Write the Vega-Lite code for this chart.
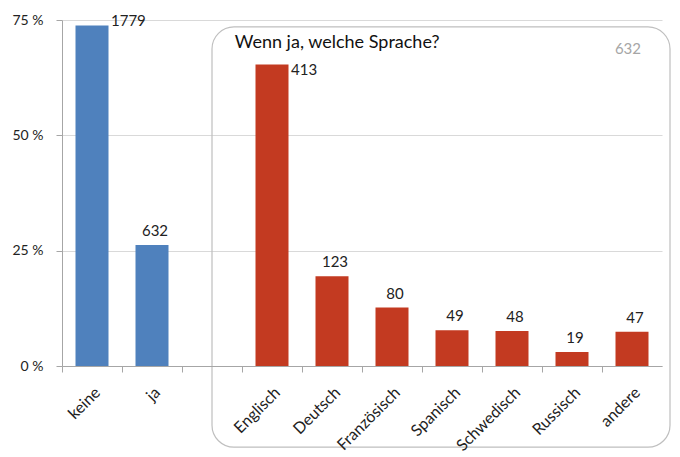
{
  "$schema": "https://vega.github.io/schema/vega-lite/v6.json",
  "width": 600,
  "height": 346,
  "autosize": {"type": "none"},
  "padding": {"left": 62, "top": 20, "right": 18, "bottom": 91},
  "background": "white",
  "config": {
    "view": {"stroke": null},
    "font": "Lato",
    "axis": {"labelFont": "Lato", "labelColor": "#222222", "labelFontSize": 14}
  },
  "data": {
    "values": [
      {"kategorie": "keine", "anzahl": 1779, "anteil": 0.7379, "gruppe": "Fremdsprache"},
      {"kategorie": "ja", "anzahl": 632, "anteil": 0.2621, "gruppe": "Fremdsprache"},
      {"kategorie": "Englisch", "anzahl": 413, "anteil": 0.6535, "gruppe": "Sprache"},
      {"kategorie": "Deutsch", "anzahl": 123, "anteil": 0.1946, "gruppe": "Sprache"},
      {"kategorie": "Französisch", "anzahl": 80, "anteil": 0.1266, "gruppe": "Sprache"},
      {"kategorie": "Spanisch", "anzahl": 49, "anteil": 0.0775, "gruppe": "Sprache"},
      {"kategorie": "Schwedisch", "anzahl": 48, "anteil": 0.0759, "gruppe": "Sprache"},
      {"kategorie": "Russisch", "anzahl": 19, "anteil": 0.0301, "gruppe": "Sprache"},
      {"kategorie": "andere", "anzahl": 47, "anteil": 0.0744, "gruppe": "Sprache"}
    ]
  },
  "encoding": {
    "x": {
      "field": "kategorie",
      "type": "nominal",
      "scale": {
        "domain": ["keine", "ja", " ", "Englisch", "Deutsch", "Französisch", "Spanisch", "Schwedisch", "Russisch", "andere"],
        "paddingInner": 0,
        "paddingOuter": 0
      },
      "axis": {
        "title": null,
        "labelAngle": -45,
        "labelAlign": "right",
        "labelBaseline": "top",
        "labelPadding": 12,
        "labelFontSize": 16,
        "bandPosition": 0,
        "ticks": true,
        "tickSize": 6,
        "tickColor": "#A6A6A6",
        "domainColor": "#A6A6A6",
        "grid": false
      }
    },
    "y": {
      "field": "anteil",
      "type": "quantitative",
      "scale": {"domain": [0, 0.75], "nice": false},
      "axis": {
        "title": null,
        "values": [0, 0.25, 0.5, 0.75],
        "labelExpr": "format(datum.value * 100, 'd') + ' %'",
        "labelPadding": 13,
        "tickSize": 6,
        "tickColor": "#A6A6A6",
        "domainColor": "#A6A6A6",
        "gridColor": "#D9D9D9",
        "labelFontSize": 14
      }
    }
  },
  "layer": [
    {
      "transform": [{"filter": "datum.kategorie == 'ja'"}],
      "mark": {"type": "rect", "fill": null, "stroke": "#BFBFBF", "strokeWidth": 1.2, "cornerRadius": 22, "x2Offset": 8},
      "encoding": {
        "x": {"datum": " ", "bandPosition": 0.5},
        "x2": {"datum": "andere", "bandPosition": 1},
        "y": {"datum": -0.176},
        "y2": {"datum": 0.735}
      }
    },
    {
      "mark": {"type": "bar", "width": {"band": 0.55}},
      "encoding": {
        "color": {
          "field": "gruppe",
          "type": "nominal",
          "scale": {"domain": ["Fremdsprache", "Sprache"], "range": ["#4F81BD", "#C33A21"]},
          "legend": null
        }
      }
    },
    {
      "transform": [{"filter": "datum.kategorie == 'keine'"}],
      "mark": {"type": "text", "align": "left", "baseline": "middle", "dx": 19, "dy": -5, "fontSize": 15, "fontWeight": "normal", "color": "#222222"},
      "encoding": {"text": {"field": "anzahl", "type": "quantitative"}}
    },
    {
      "transform": [{"filter": "datum.kategorie == 'Englisch'"}],
      "mark": {"type": "text", "align": "left", "baseline": "middle", "dx": 19, "dy": 5, "fontSize": 15, "fontWeight": "normal", "color": "#222222"},
      "encoding": {"text": {"field": "anzahl", "type": "quantitative"}}
    },
    {
      "transform": [{"filter": "datum.kategorie != 'keine' && datum.kategorie != 'Englisch'"}],
      "mark": {"type": "text", "align": "center", "baseline": "bottom", "dx": 3, "dy": -6, "fontSize": 15, "fontWeight": "normal", "color": "#222222"},
      "encoding": {"text": {"field": "anzahl", "type": "quantitative"}}
    },
    {
      "transform": [{"filter": "datum.kategorie == 'ja'"}],
      "mark": {"type": "text", "align": "left", "baseline": "middle", "fontSize": 18, "fontWeight": "normal", "color": "#111111"},
      "encoding": {
        "x": {"datum": " ", "bandPosition": 0.88},
        "y": {"datum": 0.70},
        "text": {"value": "Wenn ja, welche Sprache?"}
      }
    },
    {
      "transform": [{"filter": "datum.kategorie == 'ja'"}],
      "mark": {"type": "text", "align": "right", "baseline": "middle", "fontSize": 15, "fontWeight": "normal", "color": "#A6A6A6"},
      "encoding": {
        "x": {"datum": "andere", "bandPosition": 0.65},
        "y": {"datum": 0.687},
        "text": {"field": "anzahl", "type": "quantitative"}
      }
    }
  ]
}
